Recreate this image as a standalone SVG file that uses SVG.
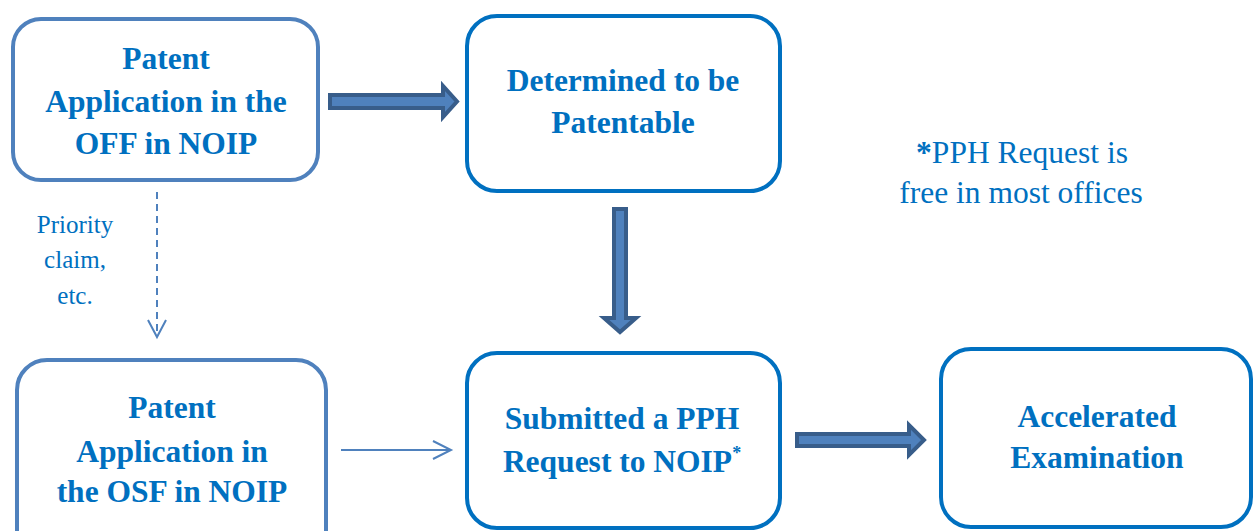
<svg xmlns="http://www.w3.org/2000/svg" width="1253" height="531" viewBox="0 0 1253 531">
<style>
.box{fill:#fff;stroke-width:4}
.b1{stroke:#4F81BD}
.b2{stroke:#0070C0}
.t{font-family:"Liberation Serif","Times New Roman",serif;fill:#0070C0;text-anchor:middle}
.bold{font-weight:bold;font-size:31.5px}
.reg{font-size:31.5px}
.lab{font-size:25px}
.block{fill:#4F81BD;stroke:#385D8A;stroke-width:4;stroke-linejoin:miter}
.thin{fill:none;stroke:#4F81BD;stroke-width:2}
</style>
<rect width="1253" height="531" fill="#fff"/>
<g id="connectors">
<polygon class="block" points="330,95 443,95 443,86 457,101.5 443,117 443,108 330,108"/>
<polygon class="block" points="614,209 626,209 626,318 636,318 620,332 604,318 614,318"/>
<polygon class="block" points="797,434 909,434 909,425 924,440 909,455 909,446 797,446"/>
<line class="thin" x1="157" y1="192" x2="157" y2="336" stroke-dasharray="7,5"/>
<polyline class="thin" points="148,320 157,337 166,320"/>
<line class="thin" x1="341" y1="450" x2="450" y2="450"/>
<polyline class="thin" points="433,441 451,450 433,459"/>
<text class="t lab" x="75" y="233">Priority</text>
<text class="t lab" x="75" y="268">claim,</text>
<text class="t lab" x="75" y="304">etc.</text>
</g>
<g id="node-off">
<rect class="box b1" x="13" y="19" width="305" height="161" rx="28"/>
<text class="t bold" x="166" y="69">Patent</text>
<text class="t bold" x="166" y="112">Application in the</text>
<text class="t bold" x="166" y="154">OFF in NOIP</text>
</g>
<g id="node-determined">
<rect class="box b2" x="467" y="16" width="313" height="175" rx="30"/>
<text class="t bold" x="623" y="91">Determined to be</text>
<text class="t bold" x="623" y="133">Patentable</text>
</g>
<g id="node-osf">
<rect class="box b1" x="17" y="360" width="309" height="200" rx="30"/>
<text class="t bold" x="172" y="418">Patent</text>
<text class="t bold" x="172" y="462">Application in</text>
<text class="t bold" x="172" y="502">the OSF in NOIP</text>
</g>
<g id="node-submitted">
<rect class="box b2" x="467" y="353" width="313" height="175" rx="30"/>
<text class="t bold" x="622" y="429">Submitted a PPH</text>
<text class="t bold" x="622" y="472">Request to NOIP<tspan font-size="18" dy="-13">*</tspan></text>
</g>
<g id="node-accelerated">
<rect class="box b2" x="941" y="349" width="310" height="178" rx="30"/>
<text class="t bold" x="1097" y="427">Accelerated</text>
<text class="t bold" x="1097" y="468">Examination</text>
</g>
<g id="note">
<text class="t reg" x="1022" y="163"><tspan font-weight="bold">*</tspan>PPH Request is</text>
<text class="t reg" x="1021" y="203">free in most offices</text>
</g>
</svg>
